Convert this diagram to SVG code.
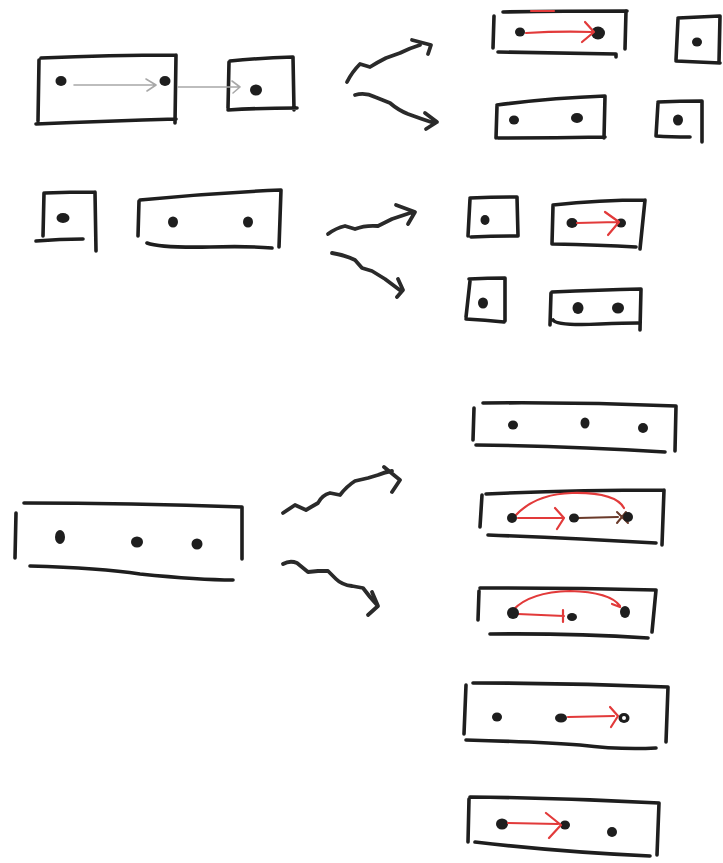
<svg xmlns="http://www.w3.org/2000/svg" width="723" height="863" viewBox="0 0 723 863">
<style>
.b{fill:none;stroke:#1e1e1e;stroke-width:3.6;stroke-linecap:round;stroke-linejoin:round}
.d{fill:#1e1e1e}
.s{fill:none;stroke:#2a2a2a;stroke-width:3.8;stroke-linecap:round;stroke-linejoin:round}
.g{fill:none;stroke:#a8a8a8;stroke-width:1.6;stroke-linecap:round;stroke-linejoin:round}
.r{fill:none;stroke:#e23a3a;stroke-width:2.2;stroke-linecap:round;stroke-linejoin:round}
.k{fill:none;stroke:#6a3a2a;stroke-width:2;stroke-linecap:round}
</style>
<rect width="723" height="863" fill="#fff"/>

<!-- Row 1 left -->
<g id="nodeA">
<path class="b" d="M39 60 L38 121 M41 58 Q110 55 176 55 M176 55 L175 123 M36 124 Q110 121 176 119"/>
<ellipse class="d" cx="61" cy="81" rx="5.5" ry="5"/>
<ellipse class="d" cx="165" cy="81" rx="5.5" ry="5"/>
<path class="g" d="M74 85 L154 85 M146 79 L156 85 L147 91"/>
</g>
<g id="nodeB">
<path class="b" d="M229 62 L228 108 M230 61 Q260 58 293 57 M293 57 L294 110 M228 110 Q260 108 297 108"/>
<ellipse class="d" cx="256" cy="90" rx="6" ry="5.5"/>
</g>

<!-- Row 1 right -->
<g id="nodeC">
<path class="b" d="M494 16 L493 48 M503 12 Q560 11 627 11 M626 11 L625 49 M498 52 Q560 53 616 54 M616 54 L616 57"/>
<path class="r" d="M531 11 L554 11"/>
<ellipse class="d" cx="520" cy="32" rx="5" ry="4.5"/>
<ellipse class="d" cx="598" cy="33" rx="7" ry="6.5"/>
<path class="r" d="M526 33 Q560 31 592 32 M585 22 L594 32 L582 42"/>
</g>
<g id="nodeD">
<path class="b" d="M678 19 L676 60 M678 18 Q700 17 720 16 M720 16 L719 62 M676 61 Q700 62 720 63"/>
<ellipse class="d" cx="697" cy="42" rx="5" ry="4.5"/>
</g>
<g id="nodeE">
<path class="b" d="M497 106 L496 138 M497 105 Q550 98 605 96 M605 96 L604 138 M498 138 Q550 138 605 137"/>
<ellipse class="d" cx="514" cy="120" rx="5" ry="4.5"/>
<ellipse class="d" cx="577" cy="118" rx="6" ry="5"/>
</g>
<g id="nodeF">
<path class="b" d="M658 103 L656 136 M658 102 Q680 101 702 101 M702 101 L702 142 M656 136 Q670 137 690 137"/>
<ellipse class="d" cx="678" cy="120" rx="5" ry="5.5"/>
</g>

<!-- Row 2 left -->
<g id="nodeG">
<path class="b" d="M44 193 L43 236 M45 193 Q70 192 95 192 M95 192 L96 251 M36 241 Q60 239 83 239"/>
<ellipse class="d" cx="63" cy="218" rx="6.5" ry="5"/>
</g>
<g id="nodeH">
<path class="b" d="M139 201 L138 236 M140 200 Q210 193 281 190 M281 190 L279 247 M147 243 Q160 248 210 247 Q250 246 272 248"/>
<ellipse class="d" cx="173" cy="222" rx="5" ry="5.5"/>
<ellipse class="d" cx="248" cy="222" rx="5" ry="5.5"/>
</g>

<!-- Row 2 right -->
<g id="nodeI">
<path class="b" d="M470 199 L468 236 M470 198 Q495 197 517 197 M517 197 L518 236 M471 237 Q495 236 517 236"/>
<ellipse class="d" cx="485" cy="220" rx="4.5" ry="5"/>
</g>
<g id="nodeJ">
<path class="b" d="M553 206 L552 244 M553 205 Q600 200 645 200 M645 200 L640 249 M553 244 Q600 245 636 247"/>
<ellipse class="d" cx="572" cy="223" rx="5.5" ry="5"/>
<ellipse class="d" cx="621" cy="223" rx="5" ry="4.5"/>
<path class="r" d="M577 223 L617 222 M605 212 L619 222 L608 235"/>
</g>
<g id="nodeK">
<path class="b" d="M470 281 L466 317 M469 279 Q488 278 505 278 M505 278 L505 321 M466 319 Q485 320 504 322"/>
<ellipse class="d" cx="483" cy="303" rx="5" ry="5.5"/>
</g>
<g id="nodeL">
<path class="b" d="M551 293 L550 325 M552 292 Q600 290 641 289 M641 289 L640 330 M553 320 Q557 326 600 324 Q625 323 638 323"/>
<ellipse class="d" cx="578" cy="308" rx="5.5" ry="6"/>
<ellipse class="d" cx="618" cy="308" rx="6" ry="5.5"/>
</g>

<!-- Row 3 left -->
<g id="nodeM">
<path class="b" d="M16 513 L15 558 M24 503 Q130 503 242 507 M242 507 L242 559 M30 566 Q100 568 140 574 Q200 580 233 580"/>
<ellipse class="d" cx="60" cy="537" rx="5" ry="7"/>
<ellipse class="d" cx="137" cy="542" rx="6" ry="5.5"/>
<ellipse class="d" cx="197" cy="544" rx="5.5" ry="5.5"/>
</g>

<!-- Row 3 right -->
<g id="nodeN">
<path class="b" d="M474 408 L473 440 M483 403 Q580 402 676 406 M676 406 L675 451 M476 445 Q570 446 665 452"/>
<ellipse class="d" cx="513" cy="425" rx="5" ry="4.5"/>
<ellipse class="d" cx="585" cy="423" rx="4.5" ry="5.5"/>
<ellipse class="d" cx="643" cy="428" rx="5" ry="5"/>
</g>
<g id="nodeO">
<path class="b" d="M482 495 L480 527 M486 494 Q570 490 664 490 M664 490 L662 545 M488 535 Q570 538 656 543"/>
<path class="r" d="M515 516 Q535 494 572 493 Q615 492 624 508"/>
<path class="r" d="M518 518 L562 518 M555 508 L564 518 L557 529"/>
<path class="k" d="M578 518 L618 517 M617 512 L628 523 M617 523 L626 512"/>
<ellipse class="d" cx="512" cy="518" rx="5" ry="5"/>
<ellipse class="d" cx="574" cy="518" rx="5" ry="4.5"/>
<ellipse class="d" cx="628" cy="517" rx="5" ry="5"/>
</g>
<g id="nodeP">
<path class="b" d="M479 591 L478 620 M480 588 Q570 588 656 590 M656 590 L652 632 M490 634 Q570 633 648 638"/>
<path class="r" d="M513 610 Q530 592 570 591 Q610 592 620 606 M612 604 L620 607"/>
<path class="r" d="M518 614 L564 616 M563 610 L563 622"/>
<ellipse class="d" cx="513" cy="613" rx="6" ry="6"/>
<ellipse class="d" cx="572" cy="617" rx="5" ry="4"/>
<ellipse class="d" cx="625" cy="612" rx="5" ry="6"/>
</g>
<g id="nodeQ">
<path class="b" d="M466 685 L464 734 M473 683 Q570 683 668 687 M668 687 L666 742 M466 740 Q540 742 580 745 Q620 750 656 748"/>
<ellipse class="d" cx="497" cy="717" rx="5" ry="4.5"/>
<ellipse class="d" cx="561" cy="718" rx="6" ry="4.5"/>
<ellipse class="d" cx="624" cy="718" rx="5.5" ry="5"/>
<circle cx="624" cy="718" r="2" fill="#fff"/>
<path class="r" d="M568 717 L614 716 M610 707 L618 716 L611 727"/>
</g>
<g id="nodeR">
<path class="b" d="M469 799 L468 842 M470 797 Q565 798 659 803 M659 803 L657 855 M475 842 Q560 852 650 856"/>
<ellipse class="d" cx="502" cy="824" rx="6" ry="5.5"/>
<ellipse class="d" cx="565" cy="825" rx="5" ry="4.5"/>
<ellipse class="d" cx="612" cy="832" rx="5" ry="5"/>
<path class="r" d="M508 823 L558 824 M546 813 L561 825 L549 838"/>
</g>

<!-- Connectors -->
<g id="connectors">
<path class="g" d="M178 87 L238 87 M232 81 L240 87 L233 93"/>
<path class="s" d="M347 82 Q352 72 360 64 L370 67 Q378 62 386 58 L400 53 Q410 48 420 45 M412 40 L431 45 L428 54"/>
<path class="s" d="M355 95 Q365 92 375 97 L390 103 Q398 110 408 114 L422 119 L434 123 M425 113 L437 122 L426 129"/>
<path class="s" d="M328 234 Q336 228 345 226 L355 229 Q365 225 378 226 L392 219 L413 212 M396 205 L415 212 L408 224"/>
<path class="s" d="M332 253 Q345 255 355 260 L362 268 L372 271 L385 279 L401 291 M398 279 L403 290 L397 297"/>
<path class="s" d="M283 513 L295 505 L306 510 L318 503 Q322 495 330 493 L340 495 Q347 486 355 481 L368 478 L378 475 Q385 472 392 471 M384 467 L400 480 L392 492"/>
<path class="s" d="M283 564 Q290 560 297 563 L308 572 L318 571 L328 571 L336 579 Q342 585 352 586 L363 588 L370 597 L377 605 M372 592 L378 606 L368 615"/>
</g>
</svg>
